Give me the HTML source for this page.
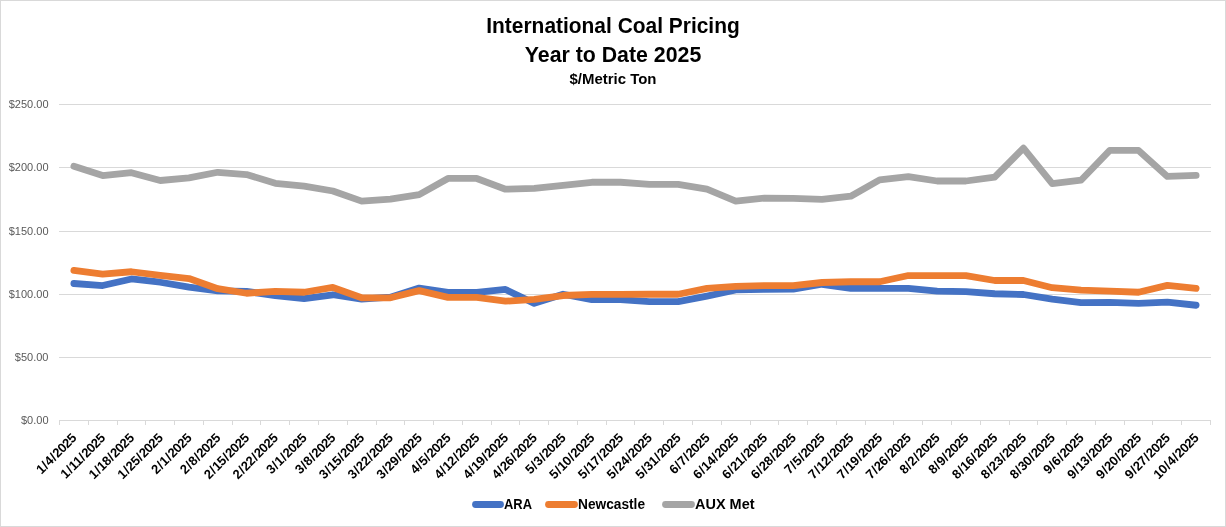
<!DOCTYPE html>
<html><head><meta charset="utf-8"><title>International Coal Pricing</title>
<style>html,body{margin:0;padding:0;background:#fff;}body{width:1226px;height:527px;overflow:hidden;}svg{display:block;will-change:transform;}</style>
</head><body>
<svg width="1226" height="527" viewBox="0 0 1226 527">
<rect x="0.5" y="0.5" width="1225" height="526" fill="#fff" stroke="#d9d9d9" stroke-width="1"/>
<g font-family="'Liberation Sans', Arial, sans-serif" font-weight="bold" fill="#000" text-anchor="middle">
<text x="613" y="33" font-size="22" textLength="253.5" lengthAdjust="spacingAndGlyphs">International Coal Pricing</text>
<text x="613" y="61.6" font-size="22" textLength="176.5" lengthAdjust="spacingAndGlyphs">Year to Date 2025</text>
<text x="613" y="84.4" font-size="14" textLength="87" lengthAdjust="spacingAndGlyphs">$/Metric Ton</text>
</g>
<g stroke="#d9d9d9" stroke-width="1" shape-rendering="crispEdges">
<line x1="59" y1="104.5" x2="1211" y2="104.5"/>
<line x1="59" y1="167.5" x2="1211" y2="167.5"/>
<line x1="59" y1="231.5" x2="1211" y2="231.5"/>
<line x1="59" y1="294.5" x2="1211" y2="294.5"/>
<line x1="59" y1="357.5" x2="1211" y2="357.5"/>
<line x1="59" y1="420.5" x2="1211" y2="420.5"/>
<line x1="59.5" y1="420" x2="59.5" y2="425"/>
<line x1="88.5" y1="420" x2="88.5" y2="425"/>
<line x1="117.5" y1="420" x2="117.5" y2="425"/>
<line x1="145.5" y1="420" x2="145.5" y2="425"/>
<line x1="174.5" y1="420" x2="174.5" y2="425"/>
<line x1="203.5" y1="420" x2="203.5" y2="425"/>
<line x1="232.5" y1="420" x2="232.5" y2="425"/>
<line x1="260.5" y1="420" x2="260.5" y2="425"/>
<line x1="289.5" y1="420" x2="289.5" y2="425"/>
<line x1="318.5" y1="420" x2="318.5" y2="425"/>
<line x1="347.5" y1="420" x2="347.5" y2="425"/>
<line x1="376.5" y1="420" x2="376.5" y2="425"/>
<line x1="404.5" y1="420" x2="404.5" y2="425"/>
<line x1="433.5" y1="420" x2="433.5" y2="425"/>
<line x1="462.5" y1="420" x2="462.5" y2="425"/>
<line x1="491.5" y1="420" x2="491.5" y2="425"/>
<line x1="519.5" y1="420" x2="519.5" y2="425"/>
<line x1="548.5" y1="420" x2="548.5" y2="425"/>
<line x1="577.5" y1="420" x2="577.5" y2="425"/>
<line x1="606.5" y1="420" x2="606.5" y2="425"/>
<line x1="634.5" y1="420" x2="634.5" y2="425"/>
<line x1="663.5" y1="420" x2="663.5" y2="425"/>
<line x1="692.5" y1="420" x2="692.5" y2="425"/>
<line x1="721.5" y1="420" x2="721.5" y2="425"/>
<line x1="750.5" y1="420" x2="750.5" y2="425"/>
<line x1="778.5" y1="420" x2="778.5" y2="425"/>
<line x1="807.5" y1="420" x2="807.5" y2="425"/>
<line x1="836.5" y1="420" x2="836.5" y2="425"/>
<line x1="865.5" y1="420" x2="865.5" y2="425"/>
<line x1="893.5" y1="420" x2="893.5" y2="425"/>
<line x1="922.5" y1="420" x2="922.5" y2="425"/>
<line x1="951.5" y1="420" x2="951.5" y2="425"/>
<line x1="980.5" y1="420" x2="980.5" y2="425"/>
<line x1="1009.5" y1="420" x2="1009.5" y2="425"/>
<line x1="1037.5" y1="420" x2="1037.5" y2="425"/>
<line x1="1066.5" y1="420" x2="1066.5" y2="425"/>
<line x1="1095.5" y1="420" x2="1095.5" y2="425"/>
<line x1="1124.5" y1="420" x2="1124.5" y2="425"/>
<line x1="1152.5" y1="420" x2="1152.5" y2="425"/>
<line x1="1181.5" y1="420" x2="1181.5" y2="425"/>
<line x1="1210.5" y1="420" x2="1210.5" y2="425"/>
</g>
<g font-family="'Liberation Sans', Arial, sans-serif" font-size="11" fill="#595959" text-anchor="end">
<text x="48.5" y="108.3">$250.00</text>
<text x="48.5" y="171.3">$200.00</text>
<text x="48.5" y="235.3">$150.00</text>
<text x="48.5" y="298.3">$100.00</text>
<text x="48.5" y="361.3">$50.00</text>
<text x="48.5" y="424.3">$0.00</text>
</g>
<g font-family="'Liberation Sans', Arial, sans-serif" font-size="13" font-weight="bold" fill="#000" text-anchor="end" letter-spacing="-0.4">
<text transform="translate(77.19,439) rotate(-45)">1<tspan dx="0.8">/</tspan><tspan dx="0.8">4</tspan><tspan dx="0.8">/</tspan><tspan dx="0.8">2025</tspan></text>
<text transform="translate(105.96,439) rotate(-45)">1<tspan dx="0.8">/</tspan><tspan dx="0.8">11</tspan><tspan dx="0.8">/</tspan><tspan dx="0.8">2025</tspan></text>
<text transform="translate(134.74,439) rotate(-45)">1<tspan dx="0.8">/</tspan><tspan dx="0.8">18</tspan><tspan dx="0.8">/</tspan><tspan dx="0.8">2025</tspan></text>
<text transform="translate(163.51,439) rotate(-45)">1<tspan dx="0.8">/</tspan><tspan dx="0.8">25</tspan><tspan dx="0.8">/</tspan><tspan dx="0.8">2025</tspan></text>
<text transform="translate(192.29,439) rotate(-45)">2<tspan dx="0.8">/</tspan><tspan dx="0.8">1</tspan><tspan dx="0.8">/</tspan><tspan dx="0.8">2025</tspan></text>
<text transform="translate(221.06,439) rotate(-45)">2<tspan dx="0.8">/</tspan><tspan dx="0.8">8</tspan><tspan dx="0.8">/</tspan><tspan dx="0.8">2025</tspan></text>
<text transform="translate(249.84,439) rotate(-45)">2<tspan dx="0.8">/</tspan><tspan dx="0.8">15</tspan><tspan dx="0.8">/</tspan><tspan dx="0.8">2025</tspan></text>
<text transform="translate(278.61,439) rotate(-45)">2<tspan dx="0.8">/</tspan><tspan dx="0.8">22</tspan><tspan dx="0.8">/</tspan><tspan dx="0.8">2025</tspan></text>
<text transform="translate(307.39,439) rotate(-45)">3<tspan dx="0.8">/</tspan><tspan dx="0.8">1</tspan><tspan dx="0.8">/</tspan><tspan dx="0.8">2025</tspan></text>
<text transform="translate(336.16,439) rotate(-45)">3<tspan dx="0.8">/</tspan><tspan dx="0.8">8</tspan><tspan dx="0.8">/</tspan><tspan dx="0.8">2025</tspan></text>
<text transform="translate(364.94,439) rotate(-45)">3<tspan dx="0.8">/</tspan><tspan dx="0.8">15</tspan><tspan dx="0.8">/</tspan><tspan dx="0.8">2025</tspan></text>
<text transform="translate(393.71,439) rotate(-45)">3<tspan dx="0.8">/</tspan><tspan dx="0.8">22</tspan><tspan dx="0.8">/</tspan><tspan dx="0.8">2025</tspan></text>
<text transform="translate(422.49,439) rotate(-45)">3<tspan dx="0.8">/</tspan><tspan dx="0.8">29</tspan><tspan dx="0.8">/</tspan><tspan dx="0.8">2025</tspan></text>
<text transform="translate(451.26,439) rotate(-45)">4<tspan dx="0.8">/</tspan><tspan dx="0.8">5</tspan><tspan dx="0.8">/</tspan><tspan dx="0.8">2025</tspan></text>
<text transform="translate(480.04,439) rotate(-45)">4<tspan dx="0.8">/</tspan><tspan dx="0.8">12</tspan><tspan dx="0.8">/</tspan><tspan dx="0.8">2025</tspan></text>
<text transform="translate(508.81,439) rotate(-45)">4<tspan dx="0.8">/</tspan><tspan dx="0.8">19</tspan><tspan dx="0.8">/</tspan><tspan dx="0.8">2025</tspan></text>
<text transform="translate(537.59,439) rotate(-45)">4<tspan dx="0.8">/</tspan><tspan dx="0.8">26</tspan><tspan dx="0.8">/</tspan><tspan dx="0.8">2025</tspan></text>
<text transform="translate(566.36,439) rotate(-45)">5<tspan dx="0.8">/</tspan><tspan dx="0.8">3</tspan><tspan dx="0.8">/</tspan><tspan dx="0.8">2025</tspan></text>
<text transform="translate(595.14,439) rotate(-45)">5<tspan dx="0.8">/</tspan><tspan dx="0.8">10</tspan><tspan dx="0.8">/</tspan><tspan dx="0.8">2025</tspan></text>
<text transform="translate(623.91,439) rotate(-45)">5<tspan dx="0.8">/</tspan><tspan dx="0.8">17</tspan><tspan dx="0.8">/</tspan><tspan dx="0.8">2025</tspan></text>
<text transform="translate(652.69,439) rotate(-45)">5<tspan dx="0.8">/</tspan><tspan dx="0.8">24</tspan><tspan dx="0.8">/</tspan><tspan dx="0.8">2025</tspan></text>
<text transform="translate(681.46,439) rotate(-45)">5<tspan dx="0.8">/</tspan><tspan dx="0.8">31</tspan><tspan dx="0.8">/</tspan><tspan dx="0.8">2025</tspan></text>
<text transform="translate(710.24,439) rotate(-45)">6<tspan dx="0.8">/</tspan><tspan dx="0.8">7</tspan><tspan dx="0.8">/</tspan><tspan dx="0.8">2025</tspan></text>
<text transform="translate(739.01,439) rotate(-45)">6<tspan dx="0.8">/</tspan><tspan dx="0.8">14</tspan><tspan dx="0.8">/</tspan><tspan dx="0.8">2025</tspan></text>
<text transform="translate(767.79,439) rotate(-45)">6<tspan dx="0.8">/</tspan><tspan dx="0.8">21</tspan><tspan dx="0.8">/</tspan><tspan dx="0.8">2025</tspan></text>
<text transform="translate(796.56,439) rotate(-45)">6<tspan dx="0.8">/</tspan><tspan dx="0.8">28</tspan><tspan dx="0.8">/</tspan><tspan dx="0.8">2025</tspan></text>
<text transform="translate(825.34,439) rotate(-45)">7<tspan dx="0.8">/</tspan><tspan dx="0.8">5</tspan><tspan dx="0.8">/</tspan><tspan dx="0.8">2025</tspan></text>
<text transform="translate(854.11,439) rotate(-45)">7<tspan dx="0.8">/</tspan><tspan dx="0.8">12</tspan><tspan dx="0.8">/</tspan><tspan dx="0.8">2025</tspan></text>
<text transform="translate(882.89,439) rotate(-45)">7<tspan dx="0.8">/</tspan><tspan dx="0.8">19</tspan><tspan dx="0.8">/</tspan><tspan dx="0.8">2025</tspan></text>
<text transform="translate(911.66,439) rotate(-45)">7<tspan dx="0.8">/</tspan><tspan dx="0.8">26</tspan><tspan dx="0.8">/</tspan><tspan dx="0.8">2025</tspan></text>
<text transform="translate(940.44,439) rotate(-45)">8<tspan dx="0.8">/</tspan><tspan dx="0.8">2</tspan><tspan dx="0.8">/</tspan><tspan dx="0.8">2025</tspan></text>
<text transform="translate(969.21,439) rotate(-45)">8<tspan dx="0.8">/</tspan><tspan dx="0.8">9</tspan><tspan dx="0.8">/</tspan><tspan dx="0.8">2025</tspan></text>
<text transform="translate(997.99,439) rotate(-45)">8<tspan dx="0.8">/</tspan><tspan dx="0.8">16</tspan><tspan dx="0.8">/</tspan><tspan dx="0.8">2025</tspan></text>
<text transform="translate(1026.76,439) rotate(-45)">8<tspan dx="0.8">/</tspan><tspan dx="0.8">23</tspan><tspan dx="0.8">/</tspan><tspan dx="0.8">2025</tspan></text>
<text transform="translate(1055.54,439) rotate(-45)">8<tspan dx="0.8">/</tspan><tspan dx="0.8">30</tspan><tspan dx="0.8">/</tspan><tspan dx="0.8">2025</tspan></text>
<text transform="translate(1084.31,439) rotate(-45)">9<tspan dx="0.8">/</tspan><tspan dx="0.8">6</tspan><tspan dx="0.8">/</tspan><tspan dx="0.8">2025</tspan></text>
<text transform="translate(1113.09,439) rotate(-45)">9<tspan dx="0.8">/</tspan><tspan dx="0.8">13</tspan><tspan dx="0.8">/</tspan><tspan dx="0.8">2025</tspan></text>
<text transform="translate(1141.86,439) rotate(-45)">9<tspan dx="0.8">/</tspan><tspan dx="0.8">20</tspan><tspan dx="0.8">/</tspan><tspan dx="0.8">2025</tspan></text>
<text transform="translate(1170.64,439) rotate(-45)">9<tspan dx="0.8">/</tspan><tspan dx="0.8">27</tspan><tspan dx="0.8">/</tspan><tspan dx="0.8">2025</tspan></text>
<text transform="translate(1199.41,439) rotate(-45)">10<tspan dx="0.8">/</tspan><tspan dx="0.8">4</tspan><tspan dx="0.8">/</tspan><tspan dx="0.8">2025</tspan></text>
</g>
<g fill="none" stroke-width="6.8" stroke-linecap="round" stroke-linejoin="round">
<polyline stroke="#4472c4" points="73.89,283.51 102.66,285.53 131.44,278.96 160.21,282.24 188.99,287.17 217.76,290.84 246.54,291.47 275.31,295.52 304.09,298.68 332.86,294.76 361.64,299.06 390.41,297.16 419.19,288.06 447.96,292.48 476.74,292.48 505.51,289.45 534.29,303.35 563.06,294.25 591.84,299.56 620.61,299.56 649.39,301.71 678.16,301.71 706.94,296.15 735.71,289.96 764.49,289.32 793.26,289.20 822.04,284.27 850.81,288.44 879.59,288.44 908.36,288.44 937.14,291.09 965.91,291.60 994.69,293.75 1023.46,294.51 1052.24,299.06 1081.01,302.60 1109.79,302.34 1138.56,303.35 1167.34,302.09 1196.11,305.25"/>
<polyline stroke="#ed7d31" points="73.89,270.36 102.66,274.16 131.44,271.75 160.21,275.42 188.99,278.58 217.76,288.69 246.54,293.24 275.31,291.35 304.09,292.23 332.86,287.43 361.64,297.79 390.41,297.79 419.19,290.59 447.96,297.41 476.74,297.41 505.51,301.20 534.29,299.44 563.06,295.52 591.84,294.38 620.61,294.38 649.39,294.25 678.16,294.25 706.94,288.44 735.71,286.42 764.49,285.53 793.26,285.66 822.04,282.50 850.81,281.74 879.59,281.74 908.36,275.55 937.14,275.55 965.91,275.55 994.69,280.48 1023.46,280.48 1052.24,287.68 1081.01,290.21 1109.79,291.09 1138.56,292.23 1167.34,285.40 1196.11,288.31"/>
<polyline stroke="#a5a5a5" points="73.89,166.34 102.66,175.56 131.44,172.66 160.21,180.49 188.99,177.96 217.76,172.28 246.54,174.55 275.31,183.27 304.09,186.05 332.86,190.98 361.64,201.10 390.41,199.20 419.19,194.65 447.96,178.47 476.74,178.47 505.51,189.21 534.29,188.33 563.06,185.42 591.84,182.26 620.61,182.26 649.39,184.28 678.16,184.28 706.94,189.21 735.71,201.10 764.49,198.06 793.26,198.44 822.04,199.33 850.81,196.17 879.59,179.86 908.36,176.57 937.14,181.00 965.91,181.00 994.69,177.08 1023.46,148.13 1052.24,183.65 1081.01,180.24 1109.79,150.41 1138.56,150.41 1167.34,176.45 1196.11,175.44"/>
</g>
<g stroke-width="6.8" stroke-linecap="round">
<line x1="475.5" y1="504.5" x2="500.5" y2="504.5" stroke="#4472c4"/>
<line x1="548.5" y1="504.5" x2="574.5" y2="504.5" stroke="#ed7d31"/>
<line x1="665.5" y1="504.5" x2="691.5" y2="504.5" stroke="#a5a5a5"/>
</g>
<g font-family="'Liberation Sans', Arial, sans-serif" font-size="14" font-weight="bold" fill="#000">
<text x="504" y="508.8" textLength="28" lengthAdjust="spacingAndGlyphs">ARA</text>
<text x="578" y="508.8" textLength="67" lengthAdjust="spacingAndGlyphs">Newcastle</text>
<text x="695" y="508.8" textLength="59.5" lengthAdjust="spacingAndGlyphs">AUX Met</text>
</g>
</svg>
</body></html>
